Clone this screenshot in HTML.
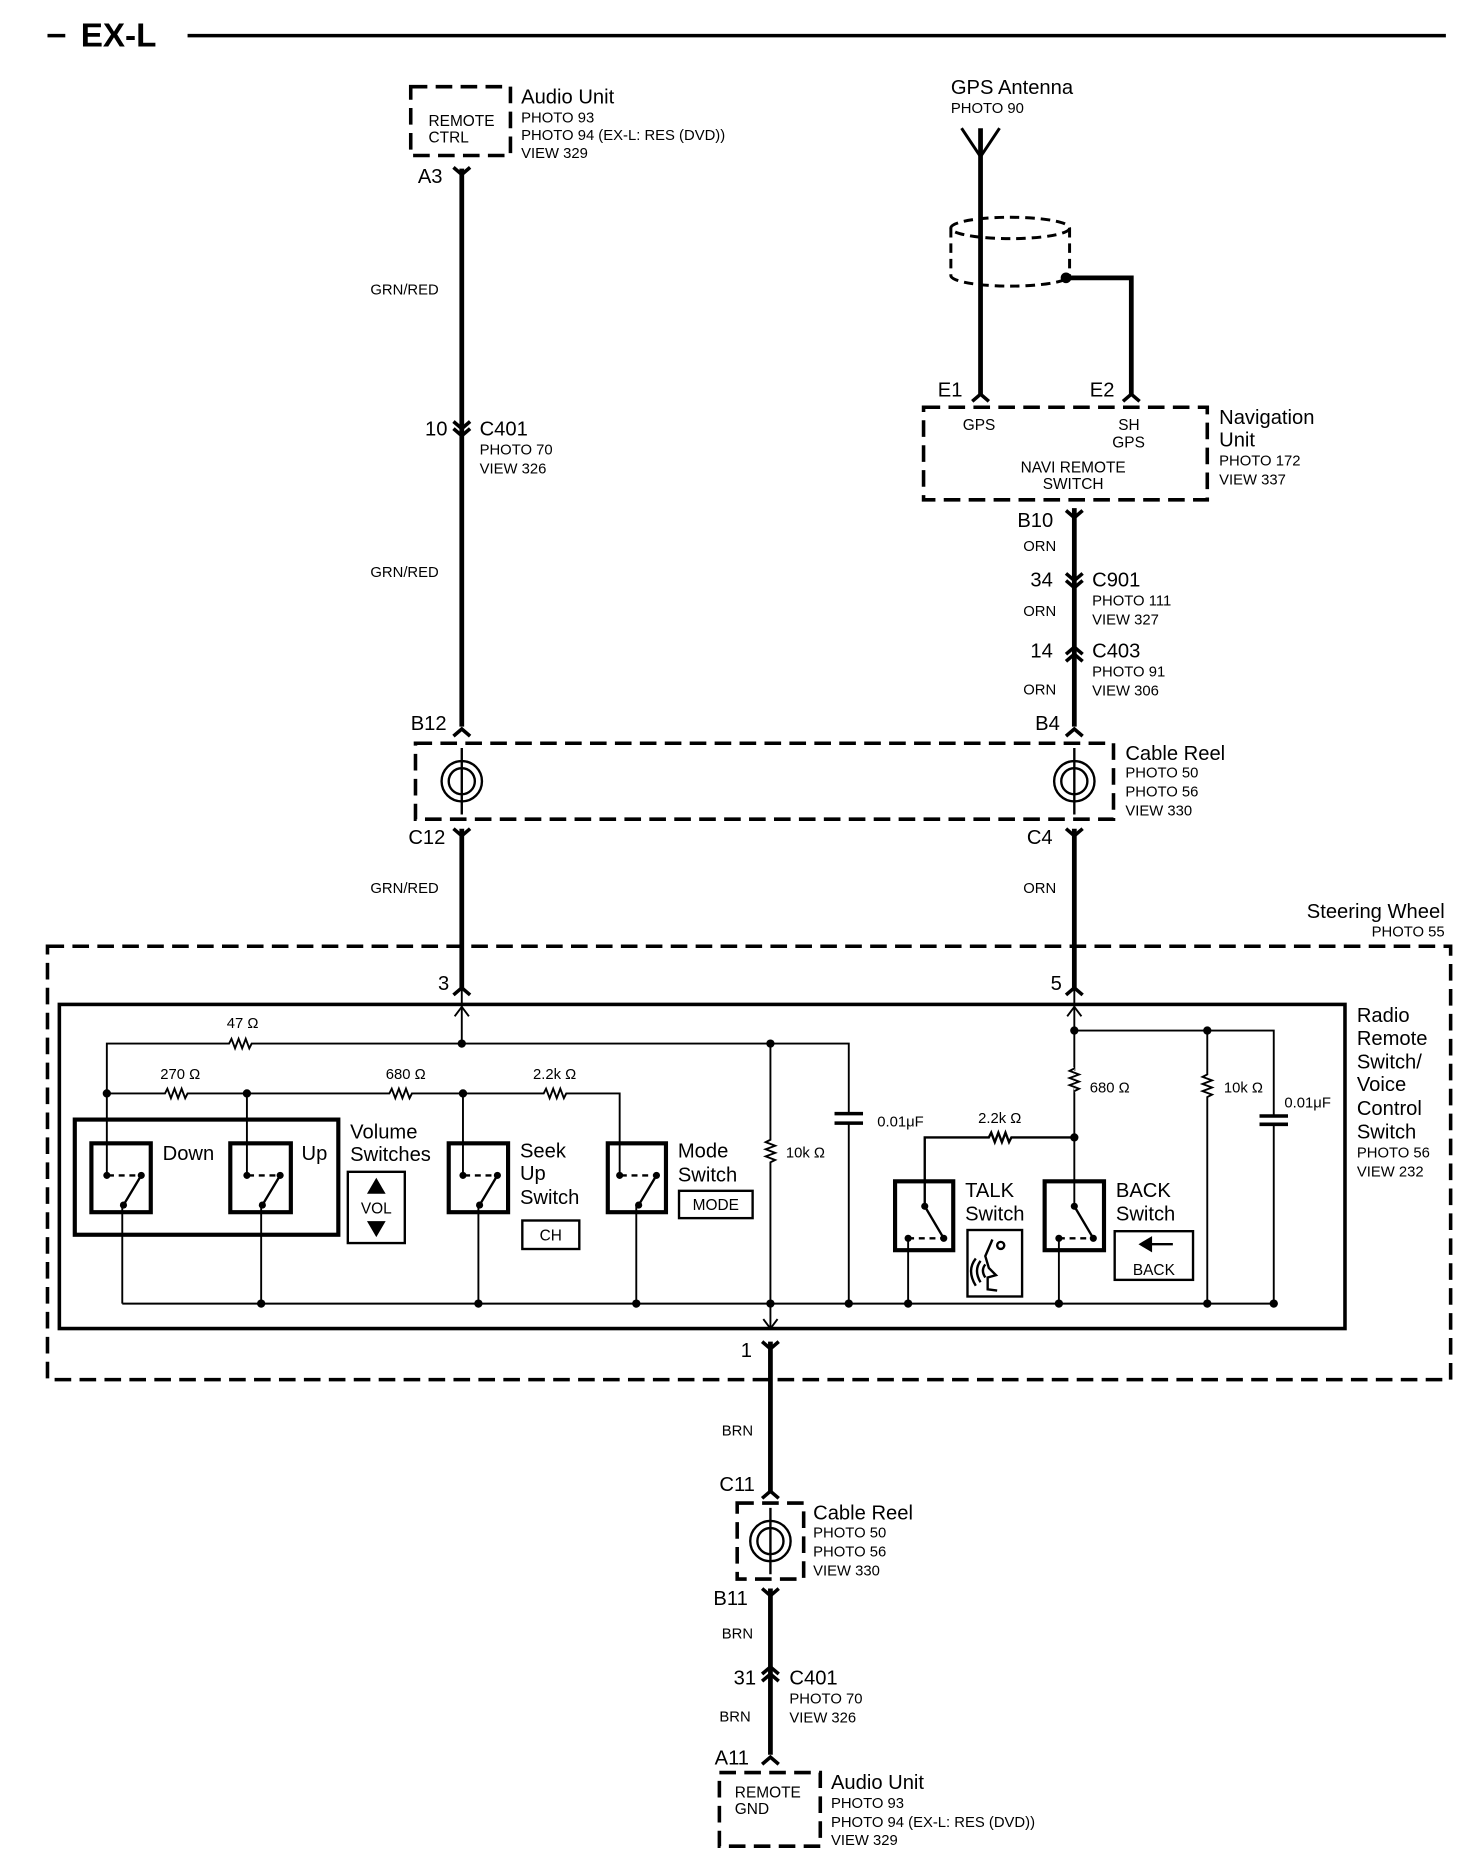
<!DOCTYPE html>
<html><head><meta charset="utf-8"><style>
html,body{margin:0;padding:0;background:#fff}
svg{display:block}
text{font-family:"Liberation Sans",Arial,sans-serif;fill:#000}
.b{font-size:17px}.s{font-size:12.5px}.m{font-size:13px}.w{font-size:12.5px}
</style></head><body>
<svg width="1472" height="1864" viewBox="0 0 1240 1570" preserveAspectRatio="none" xmlns="http://www.w3.org/2000/svg">
<g fill="none" stroke="#000">
<!-- header -->
<line x1="40" y1="30" x2="55" y2="30" stroke-width="3"/>
<line x1="158" y1="30" x2="1218" y2="30" stroke-width="3"/>
<!-- main thick wires -->
<g stroke-width="4">
<line x1="389" y1="142" x2="389" y2="612"/>
<line x1="389" y1="698" x2="389" y2="832"/>
<line x1="826" y1="108" x2="826" y2="334"/>
<polyline points="898,234 953,234 953,334"/>
<line x1="905" y1="428" x2="905" y2="612"/>
<line x1="905" y1="698" x2="905" y2="832"/>
<line x1="649" y1="1130" x2="649" y2="1258"/>
<line x1="649" y1="1338" x2="649" y2="1478"/>
</g>
<!-- connector symbols -->
<g stroke-width="3">
<path d="M382 141 L389 147 L396 141"/>
<path d="M382 355 L389 361 L396 355 M382 361 L389 367 L396 361"/>
<path d="M382 620 L389 614 L396 620"/>
<path d="M382 698 L389 704 L396 698"/>
<path d="M382 838 L389 832 L396 838"/>
<path d="M819 338 L826 332 L833 338"/>
<path d="M946 338 L953 332 L960 338"/>
<path d="M898 430 L905 436 L912 430"/>
<path d="M898 483 L905 489 L912 483 M898 489 L905 495 L912 489"/>
<path d="M898 551 L905 545 L912 551 M898 557 L905 551 L912 557"/>
<path d="M898 620 L905 614 L912 620"/>
<path d="M898 698 L905 704 L912 698"/>
<path d="M898 838 L905 832 L912 838"/>
<path d="M642 1130 L649 1136 L656 1130"/>
<path d="M642 1262 L649 1256 L656 1262"/>
<path d="M642 1338 L649 1344 L656 1338"/>
<path d="M642 1410 L649 1404 L656 1410 M642 1416 L649 1410 L656 1416"/>
<path d="M642 1486 L649 1480 L656 1486"/>
</g>
<!-- dashed boxes -->
<g stroke-width="3" stroke-dasharray="14,7">
<rect x="346" y="73" width="84" height="58"/>
<rect x="778" y="343" width="239" height="78"/>
<rect x="350" y="626" width="588" height="64"/>
<rect x="40" y="797" width="1182" height="365"/>
<rect x="621" y="1266" width="56" height="64"/>
<rect x="606" y="1493" width="85" height="62"/>
</g>
<!-- antenna -->
<path d="M810 108 L826 132 L842 108" stroke-width="2.5"/>
<!-- shield -->
<g stroke-width="2.5" stroke-dasharray="8,5">
<ellipse cx="851" cy="192" rx="50" ry="9"/>
<path d="M801 192 L801 232 M901 192 L901 232"/>
<path d="M801 232 A50 9 0 0 0 901 232"/>
</g>
<circle cx="898" cy="234" r="4" fill="#000"/>
<!-- cable reel spirals -->
<g stroke-width="2">
<circle cx="389" cy="658" r="17"/><circle cx="389" cy="658" r="11"/>
<line x1="389" y1="630" x2="389" y2="686"/>
<circle cx="905" cy="658" r="17"/><circle cx="905" cy="658" r="11"/>
<line x1="905" y1="630" x2="905" y2="686"/>
<circle cx="649" cy="1298" r="17"/><circle cx="649" cy="1298" r="11"/>
<line x1="649" y1="1270" x2="649" y2="1326"/>
</g>
<!-- inner box -->
<rect x="50" y="846" width="1083" height="273" stroke-width="3"/>
<!-- thin circuit -->
<g stroke-width="1.6">
<line x1="389" y1="832" x2="389" y2="879"/>
<path d="M383 856 L389 848 L395 856"/>
<line x1="905" y1="832" x2="905" y2="1016"/>
<path d="M899 856 L905 848 L911 856"/>
<path d="M90 992 L90 879 L193 879 l2 -4 l3 8 l3 -8 l3 8 l3 -8 l3 8 l2 -4 L715 879 L715 938"/>
<path d="M715 946 L715 1098"/>
<line x1="703" y1="938" x2="727" y2="938" stroke-width="3"/>
<line x1="703" y1="946" x2="727" y2="946" stroke-width="3"/>
<path d="M90 921 L139 921 l2 -4 l3 8 l3 -8 l3 8 l3 -8 l3 8 l2 -4 L328 921 l2 -4 l3 8 l3 -8 l3 8 l3 -8 l3 8 l2 -4 L458 921 l2 -4 l3 8 l3 -8 l3 8 l3 -8 l3 8 l2 -4 L522 921 L522 992"/>
<line x1="208" y1="921" x2="208" y2="992"/>
<line x1="390" y1="921" x2="390" y2="992"/>
<path d="M649 879 L649 960 l-4 2 l8 3 l-8 3 l8 3 l-8 3 l8 3 l-4 2 L649 1119"/>
<path d="M643 1111 L649 1119 L655 1111"/>
<line x1="103" y1="1098" x2="1073" y2="1098"/>
<line x1="103" y1="1015" x2="103" y2="1098"/>
<line x1="220" y1="1015" x2="220" y2="1098"/>
<line x1="403" y1="1015" x2="403" y2="1098"/>
<line x1="536" y1="1015" x2="536" y2="1098"/>
<!-- right side -->
<path d="M905 868 L1073 868 L1073 940"/>
<path d="M1073 947 L1073 1098"/>
<line x1="1061" y1="940" x2="1085" y2="940" stroke-width="3"/>
<line x1="1061" y1="947" x2="1085" y2="947" stroke-width="3"/>
<path d="M1017 868 L1017 905 l-4 2 l8 3 l-8 3 l8 3 l-8 3 l8 3 l-4 2 L1017 1098"/>
<path d="M905 900 l-4 2 l8 3 l-8 3 l8 3 l-8 3 l8 3 l-4 2" stroke="#fff" stroke-width="3"/>
<path d="M905 900 l-4 2 l8 3 l-8 3 l8 3 l-8 3 l8 3 l-4 2"/>
<path d="M779 1016 L779 958 L833 958 l2 -4 l3 8 l3 -8 l3 8 l3 -8 l3 8 l2 -4 L905 958" stroke-width="2"/>
<line x1="765" y1="1043" x2="765" y2="1098"/>
<line x1="892" y1="1043" x2="892" y2="1098"/>
</g>
<!-- volume big box & switch boxes -->
<g stroke-width="3.5">
<rect x="63" y="943" width="222" height="97"/>
<rect x="77" y="963" width="50" height="58"/>
<rect x="194" y="963" width="51" height="58"/>
<rect x="378" y="963" width="50" height="58"/>
<rect x="512" y="963" width="49" height="58"/>
<rect x="754" y="995" width="49" height="58"/>
<rect x="880" y="995" width="50" height="58"/>
</g>
<g stroke-width="2">
<rect x="293" y="987" width="48" height="60"/>
<rect x="440" y="1028" width="48" height="24"/>
<rect x="572" y="1003" width="62" height="23"/>
<rect x="815" y="1036" width="46" height="56"/>
<rect x="939" y="1037" width="66" height="41"/>
<!-- switch blades -->
<path d="M119 990 L104 1015 M236 990 L221 1015 M419 990 L404 1015 M553 990 L538 1015"/>
<path d="M91 990 L119 990 M209 990 L236 990 M391 990 L419 990 M523 990 L553 990" stroke-dasharray="5,4"/>
<path d="M779 1016 L795 1043 M905 1016 L921 1043"/>
<path d="M765 1043 L795 1043 M892 1043 L921 1043" stroke-dasharray="5,4"/>
<!-- talk icon -->
<path d="M836 1044 L830 1058 L833 1068 L839 1074 L832 1076 L832 1086 L840 1087"/>
<circle cx="843" cy="1049" r="3"/>
<path d="M826 1062 Q820 1070 826 1080 M822 1060 Q814 1070 822 1083 M830 1065 Q826 1070 830 1076"/>
<!-- back arrow -->
<line x1="962" y1="1048" x2="988" y2="1048"/>
</g>
<path d="M960 1048 L970 1042 L970 1054 Z" fill="#000"/>
<path d="M317 993 L310 1005 L324 1005 Z M317 1041 L310 1029 L324 1029 Z" fill="#000"/>
</g>
<!-- dots -->
<g fill="#000">
<circle cx="389" cy="879" r="3.5"/><circle cx="649" cy="879" r="3.5"/>
<circle cx="90" cy="921" r="3.5"/><circle cx="208" cy="921" r="3.5"/><circle cx="390" cy="921" r="3.5"/>
<circle cx="905" cy="868" r="3.5"/><circle cx="1017" cy="868" r="3.5"/><circle cx="905" cy="958" r="3.5"/>
<circle cx="220" cy="1098" r="3.5"/><circle cx="403" cy="1098" r="3.5"/><circle cx="536" cy="1098" r="3.5"/>
<circle cx="649" cy="1098" r="3.5"/><circle cx="715" cy="1098" r="3.5"/><circle cx="765" cy="1098" r="3.5"/>
<circle cx="892" cy="1098" r="3.5"/><circle cx="1017" cy="1098" r="3.5"/><circle cx="1073" cy="1098" r="3.5"/>
<circle cx="90" cy="990" r="3"/><circle cx="119" cy="990" r="3"/><circle cx="104" cy="1015" r="3"/>
<circle cx="208" cy="990" r="3"/><circle cx="236" cy="990" r="3"/><circle cx="221" cy="1015" r="3"/>
<circle cx="390" cy="990" r="3"/><circle cx="419" cy="990" r="3"/><circle cx="404" cy="1015" r="3"/>
<circle cx="522" cy="990" r="3"/><circle cx="553" cy="990" r="3"/><circle cx="538" cy="1015" r="3"/>
<circle cx="779" cy="1016" r="3"/><circle cx="795" cy="1043" r="3"/><circle cx="765" cy="1043" r="3"/>
<circle cx="905" cy="1016" r="3"/><circle cx="921" cy="1043" r="3"/><circle cx="892" cy="1043" r="3"/>
</g>
<!-- text -->
<text x="68" y="39" style="font-size:28px;font-weight:bold">EX-L</text>
<text x="361" y="106" class="m">REMOTE</text><text x="361" y="120" class="m">CTRL</text>
<text x="439" y="87" class="b">Audio Unit</text>
<text x="439" y="103" class="s">PHOTO 93</text><text x="439" y="118" class="s">PHOTO 94 (EX-L: RES (DVD))</text><text x="439" y="133" class="s">VIEW 329</text>
<text x="352" y="154" class="b">A3</text>
<text x="312" y="248" class="w">GRN/RED</text>
<text x="358" y="367" class="b">10</text>
<text x="404" y="367" class="b">C401</text><text x="404" y="383" class="s">PHOTO 70</text><text x="404" y="399" class="s">VIEW 326</text>
<text x="312" y="486" class="w">GRN/RED</text>
<text x="346" y="615" class="b">B12</text>
<text x="344" y="711" class="b">C12</text>
<text x="312" y="752" class="w">GRN/RED</text>
<text x="801" y="79" class="b">GPS Antenna</text><text x="801" y="95" class="s">PHOTO 90</text>
<text x="790" y="334" class="b">E1</text><text x="918" y="334" class="b">E2</text>
<text x="811" y="362" class="m">GPS</text>
<text x="942" y="362" class="m">SH</text><text x="937" y="377" class="m">GPS</text>
<text x="904" y="398" class="m" text-anchor="middle">NAVI REMOTE</text><text x="904" y="412" class="m" text-anchor="middle">SWITCH</text>
<text x="1027" y="357" class="b">Navigation</text><text x="1027" y="376" class="b">Unit</text>
<text x="1027" y="392" class="s">PHOTO 172</text><text x="1027" y="408" class="s">VIEW 337</text>
<text x="857" y="444" class="b">B10</text>
<text x="862" y="464" class="w">ORN</text>
<text x="868" y="494" class="b">34</text>
<text x="920" y="494" class="b">C901</text><text x="920" y="510" class="s">PHOTO 111</text><text x="920" y="526" class="s">VIEW 327</text>
<text x="862" y="519" class="w">ORN</text>
<text x="868" y="554" class="b">14</text>
<text x="920" y="554" class="b">C403</text><text x="920" y="570" class="s">PHOTO 91</text><text x="920" y="586" class="s">VIEW 306</text>
<text x="862" y="585" class="w">ORN</text>
<text x="872" y="615" class="b">B4</text>
<text x="948" y="640" class="b">Cable Reel</text><text x="948" y="655" class="s">PHOTO 50</text><text x="948" y="671" class="s">PHOTO 56</text><text x="948" y="687" class="s">VIEW 330</text>
<text x="865" y="711" class="b">C4</text>
<text x="862" y="752" class="w">ORN</text>
<text x="1217" y="773" class="b" text-anchor="end">Steering Wheel</text>
<text x="1217" y="789" class="s" text-anchor="end">PHOTO 55</text>
<text x="369" y="834" class="b">3</text><text x="885" y="834" class="b">5</text>
<text x="191" y="866" class="s">47 Ω</text>
<text x="135" y="909" class="s">270 Ω</text><text x="325" y="909" class="s">680 Ω</text><text x="449" y="909" class="s">2.2k Ω</text>
<text x="137" y="977" class="b">Down</text><text x="254" y="977" class="b">Up</text>
<text x="295" y="959" class="b">Volume</text><text x="295" y="978" class="b">Switches</text>
<text x="317" y="1022" class="m" text-anchor="middle">VOL</text>
<text x="438" y="975" class="b">Seek</text><text x="438" y="994" class="b">Up</text><text x="438" y="1014" class="b">Switch</text>
<text x="464" y="1045" class="m" text-anchor="middle">CH</text>
<text x="571" y="975" class="b">Mode</text><text x="571" y="995" class="b">Switch</text>
<text x="603" y="1019" class="m" text-anchor="middle">MODE</text>
<text x="662" y="975" class="s">10k Ω</text>
<text x="739" y="949" class="s">0.01μF</text>
<text x="824" y="946" class="s">2.2k Ω</text>
<text x="918" y="920" class="s">680 Ω</text>
<text x="1031" y="920" class="s">10k Ω</text>
<text x="1082" y="933" class="s">0.01μF</text>
<text x="813" y="1008" class="b">TALK</text><text x="813" y="1028" class="b">Switch</text>
<text x="940" y="1008" class="b">BACK</text><text x="940" y="1028" class="b">Switch</text>
<text x="972" y="1074" class="m" text-anchor="middle">BACK</text>
<text x="1143" y="861" class="b">Radio</text><text x="1143" y="880" class="b">Remote</text><text x="1143" y="900" class="b">Switch/</text>
<text x="1143" y="919" class="b">Voice</text><text x="1143" y="939" class="b">Control</text><text x="1143" y="959" class="b">Switch</text>
<text x="1143" y="975" class="s">PHOTO 56</text><text x="1143" y="991" class="s">VIEW 232</text>
<text x="624" y="1143" class="b">1</text>
<text x="608" y="1209" class="w">BRN</text>
<text x="606" y="1256" class="b">C11</text>
<text x="685" y="1280" class="b">Cable Reel</text><text x="685" y="1295" class="s">PHOTO 50</text><text x="685" y="1311" class="s">PHOTO 56</text><text x="685" y="1327" class="s">VIEW 330</text>
<text x="601" y="1352" class="b">B11</text>
<text x="608" y="1380" class="w">BRN</text>
<text x="618" y="1419" class="b">31</text>
<text x="665" y="1419" class="b">C401</text><text x="665" y="1435" class="s">PHOTO 70</text><text x="665" y="1451" class="s">VIEW 326</text>
<text x="606" y="1450" class="w">BRN</text>
<text x="602" y="1486" class="b">A11</text>
<text x="619" y="1514" class="m">REMOTE</text><text x="619" y="1528" class="m">GND</text>
<text x="700" y="1507" class="b">Audio Unit</text>
<text x="700" y="1523" class="s">PHOTO 93</text><text x="700" y="1539" class="s">PHOTO 94 (EX-L: RES (DVD))</text><text x="700" y="1554" class="s">VIEW 329</text>
</svg>
</body></html>
